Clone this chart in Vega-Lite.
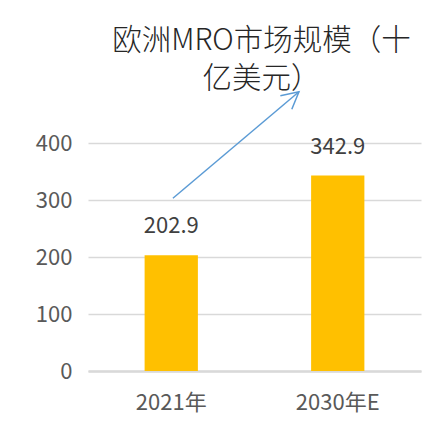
{
  "$schema": "https://vega.github.io/schema/vega-lite/v6.json",
  "autosize": "none",
  "width": 333,
  "height": 228,
  "padding": {"left": 88, "top": 143, "right": 18, "bottom": 69},
  "background": "white",
  "config": {
    "view": {"stroke": null},
    "font": "Noto Sans CJK SC"
  },
  "title": {
    "text": ["欧洲MRO市场规模（十", "亿美元）"],
    "fontSize": 29.5,
    "fontWeight": 300,
    "color": "#262626",
    "lineHeight": 38,
    "anchor": "middle",
    "dx": 7,
    "offset": -6,
    "font": "Noto Sans CJK SC"
  },
  "datasets": {
    "bars": [
      {"year": "2021年", "value": 202.9},
      {"year": "2030年E", "value": 342.9}
    ],
    "arrow": [
      {"px": 0.51, "py": 303, "end": false},
      {"px": 1.267, "py": 490, "end": true}
    ]
  },
  "layer": [
    {
      "data": {"name": "bars"},
      "layer": [
        {
          "mark": {"type": "bar", "color": "#ffc000"},
          "encoding": {
            "x": {
              "field": "year", "type": "nominal", "sort": null,
              "scale": {"paddingInner": 0.68, "paddingOuter": 0.34},
              "axis": {
                "title": null, "labelAngle": 0, "labelFontSize": 22, "labelColor": "#595959",
                "ticks": false, "domainColor": "#d9d9d9", "domainWidth": 2.5, "labelPadding": 21
              }
            },
            "y": {
              "field": "value", "type": "quantitative",
              "scale": {"domain": [0, 400], "nice": false},
              "axis": {
                "title": null, "values": [0, 100, 200, 300, 400], "labelFontSize": 22,
                "labelColor": "#595959", "domain": false, "ticks": false, "labelPadding": 16,
                "gridColor": "#d9d9d9", "gridWidth": 1.5
              }
            }
          }
        },
        {
          "mark": {"type": "text", "baseline": "bottom", "dy": -17, "fontSize": 22, "color": "#404040"},
          "encoding": {
            "x": {"field": "year", "type": "nominal", "sort": null},
            "y": {"field": "value", "type": "quantitative"},
            "text": {"field": "value", "type": "quantitative", "format": ".1f"}
          }
        }
      ]
    },
    {
      "data": {"name": "arrow"},
      "layer": [
        {
          "mark": {"type": "line", "color": "#5b9bd5", "strokeWidth": 1.5},
          "encoding": {
            "x": {"field": "px", "type": "quantitative", "scale": {"domain": [0, 2], "nice": false, "zero": false}, "axis": null},
            "y": {"field": "py", "type": "quantitative"}
          }
        },
        {
          "transform": [{"filter": "datum.end"}],
          "mark": {
            "type": "point", "shape": "M-0.53,1L0,0L0.53,1", "filled": false,
            "color": "#5b9bd5", "strokeWidth": 1.5, "size": 1130, "angle": 50, "opacity": 1
          },
          "encoding": {
            "x": {"field": "px", "type": "quantitative"},
            "y": {"field": "py", "type": "quantitative"}
          }
        }
      ]
    }
  ],
  "resolve": {"scale": {"x": "independent"}}
}
